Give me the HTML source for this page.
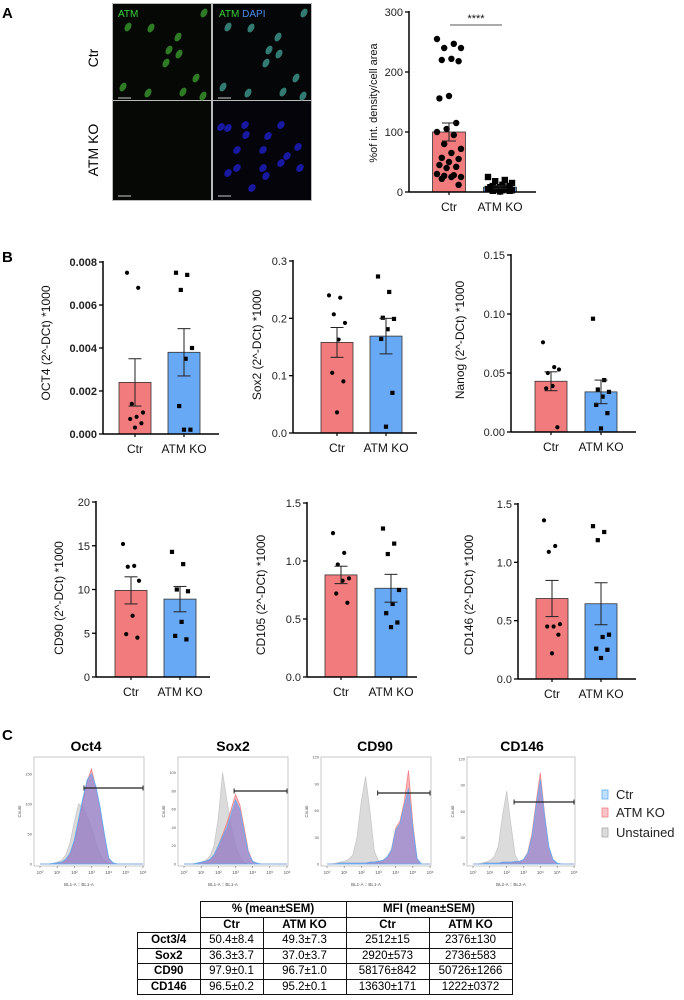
<!DOCTYPE html>
<html><head><meta charset="utf-8">
<style>
html,body{margin:0;padding:0;background:#fff;}
body{width:684px;height:1000px;position:relative;overflow:hidden;font-family:"Liberation Sans",Arial,sans-serif;}
svg{position:absolute;left:0;top:0;}
table{position:absolute;left:137px;top:901px;border-collapse:collapse;font-family:"Liberation Sans",sans-serif;font-size:11.5px;}
td{border:1.5px solid #111;text-align:center;padding:0;height:14.5px;line-height:14px;}
td.b{font-weight:bold;}
</style></head>
<body>
<svg id="fig" width="684" height="1000" viewBox="0 0 684 1000" xmlns="http://www.w3.org/2000/svg"></svg>
<table>
<tr><td style="border:none;border-right:1.5px solid #111;width:62px"></td><td class="b" colspan="2">% (mean±SEM)</td><td class="b" colspan="2">MFI (mean±SEM)</td></tr>
<tr><td style="border:none;border-right:1.5px solid #111;border-bottom:1.5px solid #111"></td><td class="b" style="width:62px">Ctr</td><td class="b" style="width:82px">ATM KO</td><td class="b" style="width:82px">Ctr</td><td class="b" style="width:82px">ATM KO</td></tr>
<tr><td class="b">Oct3/4</td><td>50.4±8.4</td><td>49.3±7.3</td><td>2512±15</td><td>2376±130</td></tr>
<tr><td class="b">Sox2</td><td>36.3±3.7</td><td>37.0±3.7</td><td>2920±573</td><td>2736±583</td></tr>
<tr><td class="b">CD90</td><td>97.9±0.1</td><td>96.7±1.0</td><td>58176±842</td><td>50726±1266</td></tr>
<tr><td class="b">CD146</td><td>96.5±0.2</td><td>95.2±0.1</td><td>13630±171</td><td>1222±0372</td></tr>
</table>
<script>
// ---------- DATA ----------
const groups = ["Ctr","ATM KO"];
// Panel A
const atmMeans = [100, 8];
const atmSem = [15, 2];
const atmCtrPts = [255,247,240,240,222,220,218,160,156,115,105,100,95,80,72,65,57,55,50,45,42,40,30,28,27,25,25,22,12];
const atmKoPts = [25,20,18,15,12,10,10,8,8,7,6,5,5,4,3,3,2,2,1];
const atmTicks = [0,100,200,300];
// Panel B
const oct4Means=[0.0024,0.0038], oct4Sem=[0.0011,0.0011];
const oct4Ctr=[0.0075,0.0068,0.0014,0.0010,0.0008,0.0007,0.0005,0.0003];
const oct4Ko=[0.0075,0.0074,0.0067,0.0040,0.0035,0.0013,0.0002,0.0002];
const oct4Ticks=["0.000","0.002","0.004","0.006","0.008"];
const sox2Means=[0.158,0.169], sox2Sem=[0.026,0.031];
const sox2Ctr=[0.240,0.236,0.207,0.192,0.163,0.105,0.090,0.036];
const sox2Ko=[0.273,0.246,0.201,0.199,0.181,0.164,0.070,0.011];
const sox2Ticks=["0.0","0.1","0.2","0.3"];
const nanogMeans=[0.043,0.034], nanogSem=[0.008,0.010];
const nanogCtr=[0.076,0.055,0.050,0.053,0.039,0.037,0.004];
const nanogKo=[0.096,0.044,0.036,0.034,0.030,0.023,0.016,0.003];
const nanogTicks=["0.00","0.05","0.10","0.15"];
const cd90Means=[9.9,8.9], cd90Sem=[1.55,1.45];
const cd90Ctr=[15.2,12.7,12.6,11.0,7.0,4.9,4.5];
const cd90Ko=[14.3,12.9,10.0,9.8,6.3,4.7,4.3];
const cd90Ticks=["0","5","10","15","20"];
const cd105Means=[0.88,0.765], cd105Sem=[0.075,0.12];
const cd105Ctr=[1.24,1.07,0.97,0.85,0.83,0.72,0.64];
const cd105Ko=[1.28,1.15,1.06,0.75,0.63,0.55,0.47,0.43];
const cd105Ticks=["0.0","0.5","1.0","1.5"];
const cd146Means=[0.69,0.645], cd146Sem=[0.155,0.18];
const cd146Ctr=[1.36,1.14,1.09,0.47,0.45,0.45,0.38,0.22];
const cd146Ko=[1.31,1.26,1.19,0.38,0.36,0.26,0.25,0.18];
const cd146Ticks=["0.0","0.5","1.0","1.5"];
// Panel C histograms (counts at log10 0..6 step 0.25)
const oct4HCtr=[0,0,0,1,2,3,8,18,40,75,110,140,150,130,95,50,10,2,0,0,0,0,0,0,0];
const oct4HKo=[0,0,0,1,2,3,7,16,36,70,105,138,158,128,92,48,9,2,0,0,0,0,0,0,0];
const oct4HUn=[0,0,0,1,3,6,15,35,70,100,95,80,60,35,15,5,1,0,0,0,0,0,0,0,0];
const sox2HCtr=[0,0,0,1,2,3,5,10,20,30,40,55,70,60,35,12,3,1,0,0,0,0,0,0,0];
const sox2HKo=[0,0,0,1,2,3,5,10,20,32,45,60,76,65,40,14,3,1,0,0,0,0,0,0,0];
const sox2HUn=[0,0,0,1,2,4,8,20,50,100,70,40,20,8,2,0,0,0,0,0,0,0,0,0,0];
const cd90HCtr=[0,0,0,1,1,1,1,1,1,1,2,2,3,4,8,15,38,45,65,85,40,6,0,0,0];
const cd90HKo=[0,0,0,1,1,1,1,1,1,1,2,2,3,4,8,16,40,48,70,105,45,6,0,0,0];
const cd90HUn=[0,0,1,2,3,5,10,30,70,98,60,15,3,1,0,0,0,0,0,0,0,0,0,0,0];
const cd146HCtr=[0,0,0,1,1,1,1,2,2,2,3,3,5,12,30,65,96,55,20,5,1,0,0,0,0];
const cd146HKo=[0,0,0,1,1,1,1,2,2,2,3,3,5,13,34,70,104,58,20,5,1,0,0,0,0];
const cd146HUn=[0,0,1,2,4,8,20,55,83,45,10,2,0,0,0,0,0,0,0,0,0,0,0,0,0];
const histTitles=["Oct4","Sox2","CD90","CD146"];
const histGates=[2.56,2.92,2.95,2.44];
const histMax=[178,117,120,122];

// ---------- HELPERS ----------
const NS="http://www.w3.org/2000/svg";
const svg=document.getElementById('fig');
function el(tag,attrs,parent,txt){const e=document.createElementNS(NS,tag);for(const k in attrs)e.setAttribute(k,attrs[k]);if(txt!==undefined)e.textContent=txt;(parent||svg).appendChild(e);return e;}
const RED="#f27b7d", BLUE="#68a9f6";

function barChart(c){
  const g=el('g',{});
  
  
  const y=v=>c.y0-(v/c.max)*(c.y0-c.yTop);
  [0,1].forEach(i=>{
    const b=el('rect',{x:c.cx[i]-c.bw/2,y:y(c.means[i]),width:c.bw,height:c.y0-y(c.means[i]),fill:i?BLUE:RED,stroke:'#333','stroke-width':0.8},g);
    
    
  });
  [c.ctr,c.ko].forEach((pts,i)=>{
    pts.forEach((v,k)=>{
      const off=(((k*7)%11)-5)/5*c.jit;
      const px=c.cx[i]+off, py=y(v);
      let m;
      if(i===0) m=el('circle',{cx:px,cy:py,r:c.pr,fill:'#000'},g);
      else m=el('rect',{x:px-c.pr,y:py-c.pr,width:c.pr*2,height:c.pr*2,fill:'#000'},g);
      
      
    });
  });
  [0,1].forEach(i=>{
    const lo=y(c.means[i]-c.sem[i]),hi=y(c.means[i]+c.sem[i]);
    el('line',{x1:c.cx[i],x2:c.cx[i],y1:lo,y2:hi,stroke:'#222','stroke-width':1},g);
    el('line',{x1:c.cx[i]-c.cap,x2:c.cx[i]+c.cap,y1:lo,y2:lo,stroke:'#222','stroke-width':1},g);
    el('line',{x1:c.cx[i]-c.cap,x2:c.cx[i]+c.cap,y1:hi,y2:hi,stroke:'#222','stroke-width':1},g);
  });
  const ax=el('line',{x1:c.ax,x2:c.ax,y1:c.yTop-1,y2:c.y0,stroke:'#000','stroke-width':1.5},g);
  
  const xa=el('line',{x1:c.ax,x2:c.axEnd,y1:c.y0,y2:c.y0,stroke:'#000','stroke-width':1.5},g);
  
  c.ticks.forEach((t,k)=>{
    const v=parseFloat(t),ty=y(v);
    el('line',{x1:c.ax-4,x2:c.ax,y1:ty,y2:ty,stroke:'#000','stroke-width':1.3},g);
    const tl=el('text',{x:c.ax-6,y:ty+4,'text-anchor':'end','font-size':c.tfs||11,'font-weight':c.bold?'bold':'normal',fill:'#222'},g,t);
    
  });
  [0,1].forEach(i=>{
    el('line',{x1:c.cx[i],x2:c.cx[i],y1:c.y0,y2:c.y0+3,stroke:'#000','stroke-width':1.2},g);
    const xl=el('text',{x:c.cx[i],y:c.y0+c.xlOff,'text-anchor':'middle','font-size':c.xfs||12,fill:'#111'},g,groups[i]);
    
  });
  const yl=el('text',{x:0,y:0,transform:`translate(${c.ylx},${c.yly}) rotate(-90)`,'text-anchor':'middle','font-size':c.yfs||12,fill:'#111'},g,c.ylabel);
  
  return {g,y};
}

function panelLabel(t,x,y){const e=el('text',{x,y,'font-size':15,'font-weight':'bold'},svg,t);}
panelLabel('A',2,18);panelLabel('B',2,262);panelLabel('C',2,740);

// ---------- MICROSCOPY ----------
const micro=el('g',{});

el('rect',{x:112,y:3,width:200,height:198,fill:'#bbb'},micro);
el('rect',{x:113,y:4,width:98,height:96,fill:'#050805'},micro);
el('rect',{x:213,y:4,width:98,height:96,fill:'#050608'},micro);
el('rect',{x:113,y:101,width:98,height:99,fill:'#060806'},micro);
el('rect',{x:213,y:101,width:98,height:99,fill:'#04040a'},micro);
const cells=[[204,13],[128,27],[151,28],[178,37],[169,50],[179,54],[166,63],[196,78],[123,87],[148,93],[183,92],[203,96]];
cells.forEach(([x,y])=>{
  el('ellipse',{cx:x,cy:y,rx:3,ry:4.8,fill:'#2f7a24',transform:`rotate(30 ${x} ${y})`},micro);
  el('ellipse',{cx:x+100,cy:y,rx:3,ry:4.8,fill:'#337a72',transform:`rotate(30 ${x+100} ${y})`},micro);
});
const blue=[[221,127],[228,128],[245,125],[281,125],[268,136],[246,135],[298,147],[263,150],[237,150],[287,156],[237,168],[263,168],[281,163],[228,173],[252,188],[266,176],[300,168]];
blue.forEach(([x,y])=>el('ellipse',{cx:x,cy:y,rx:3.3,ry:4.3,fill:'#1818a0',transform:`rotate(40 ${x} ${y})`},micro));
[[118,98],[218,98],[118,196],[218,196]].forEach(([x,y])=>el('line',{x1:x,x2:x+13,y1:y,y2:y,stroke:'#ccc','stroke-width':1},micro));
el('text',{x:118,y:17,'font-size':10,fill:'#3bd13b'},micro,'ATM');
const t2=el('text',{x:219,y:17,'font-size':10},micro);
el('tspan',{fill:'#3bd13b'},t2,'ATM ');el('tspan',{fill:'#4a8cf0'},t2,'DAPI');
el('text',{x:0,y:0,transform:'translate(98,58) rotate(-90)','text-anchor':'middle','font-size':14},micro,'Ctr');
el('text',{x:0,y:0,transform:'translate(98,150) rotate(-90)','text-anchor':'middle','font-size':14},micro,'ATM KO');

// ---------- PANEL A CHART ----------
barChart({name:'atm-quantification-chart',ax:409,axEnd:536,y0:192,yTop:12,max:300,means:atmMeans,sem:atmSem,ctr:atmCtrPts,ko:atmKoPts,
  ticks:atmTicks.map(String),cx:[449,500],bw:33,cap:7,pr:3.2,jit:12,xlOff:19,ylx:377,yly:103,ylabel:'%of int. density/cell area',yfs:11,tfs:11});
el('line',{x1:450,x2:502,y1:25,y2:25,stroke:'#555','stroke-width':1});
el('text',{x:476,y:22,'text-anchor':'middle','font-size':11,fill:'#111'},svg,'****');

// ---------- PANEL B CHARTS ----------
const common={bw:32,cap:6.5,pr:2.1,jit:8,xlOff:19};
barChart(Object.assign({},common,{name:'oct4-chart',ax:103,axEnd:219,y0:434,yTop:262,max:0.008,means:oct4Means,sem:oct4Sem,ctr:oct4Ctr,ko:oct4Ko,ticks:oct4Ticks,bold:true,cx:[135,184],ylx:50,yly:343,ylabel:'OCT4 (2^-DCt) *1000'}));
barChart(Object.assign({},common,{name:'sox2-chart',ax:293,axEnd:417,y0:433,yTop:261,max:0.3,means:sox2Means,sem:sox2Sem,ctr:sox2Ctr,ko:sox2Ko,ticks:sox2Ticks,cx:[337,386],ylx:261,yly:345,ylabel:'Sox2 (2^-DCt) *1000'}));
barChart(Object.assign({},common,{name:'nanog-chart',ax:511,axEnd:636,y0:432,yTop:255,max:0.15,means:nanogMeans,sem:nanogSem,ctr:nanogCtr,ko:nanogKo,ticks:nanogTicks,cx:[551,601],ylx:464,yly:340,ylabel:'Nanog (2^-DCt) *1000'}));
barChart(Object.assign({},common,{name:'cd90-chart',ax:96,axEnd:210,y0:677,yTop:502,max:20,means:cd90Means,sem:cd90Sem,ctr:cd90Ctr,ko:cd90Ko,ticks:cd90Ticks,cx:[131,180],ylx:63,yly:598,ylabel:'CD90 (2^-DCt) *1000'}));
barChart(Object.assign({},common,{name:'cd105-chart',ax:307,axEnd:417,y0:677,yTop:503,max:1.5,means:cd105Means,sem:cd105Sem,ctr:cd105Ctr,ko:cd105Ko,ticks:cd105Ticks,cx:[341,391],ylx:265,yly:595,ylabel:'CD105 (2^-DCt) *1000'}));
barChart(Object.assign({},common,{name:'cd146-chart',ax:518,axEnd:636,y0:679,yTop:504,max:1.5,means:cd146Means,sem:cd146Sem,ctr:cd146Ctr,ko:cd146Ko,ticks:cd146Ticks,cx:[552,601],ylx:473,yly:595,ylabel:'CD146 (2^-DCt) *1000'}));

// ---------- PANEL C HISTOGRAMS ----------
const boxes=[[34,144],[178,288],[321,431],[467,575]];
const histData=[[oct4HCtr,oct4HKo,oct4HUn],[sox2HCtr,sox2HKo,sox2HUn],[cd90HCtr,cd90HKo,cd90HUn],[cd146HCtr,cd146HKo,cd146HUn]];
const yTickSets=[[0,50,100,150],[0,20,40,60,80,100],[0,30,60,90,120],[0,30,60,90,120]];
const chNames=["BL1-A :: BL1-A","BL1-A :: BL1-A","BL1-A :: BL1-A","BL2-A :: BL2-A"];
const gateYs=[788,791,793,802];
boxes.forEach(([bx1,bx2],h)=>{
  const g=el('g',{});
  
  
  const top=757,bot=866,zero=864;
  const px0=bx1+6,px6=bx2-1;
  const X=l=>px0+(l/6)*(px6-px0);
  const Y=c=>zero-(c/histMax[h])*(zero-top);
  el('rect',{x:bx1,y:top,width:bx2-bx1,height:bot-top,fill:'#fff',stroke:'#bbb','stroke-width':0.8},g);
  const styles=[['rgba(110,125,225,0.55)','#5fb0f5'],['rgba(240,120,130,0.55)','#f07f86'],['rgba(195,195,195,0.6)','#c8c8c8']];
  [2,1,0].forEach(s=>{
    const arr=histData[h][s];
    let d=`M${X(0)},${Y(0)}`;
    arr.forEach((v,k)=>{d+=` L${X(k*0.25).toFixed(1)},${Y(v).toFixed(1)}`;});
    d+=` L${X(6)},${Y(0)} Z`;
    const p=el('path',{d,fill:styles[s][0],stroke:styles[s][1],'stroke-width':0.8},g);
    
    
  });
  const gyy=gateYs[h];
  el('line',{x1:X(histGates[h]),x2:X(6),y1:gyy,y2:gyy,stroke:'#222','stroke-width':1.3},g);
  el('line',{x1:X(histGates[h]),x2:X(histGates[h]),y1:gyy-2.5,y2:gyy+2.5,stroke:'#222','stroke-width':1},g);
  el('line',{x1:X(6),x2:X(6),y1:gyy-2.5,y2:gyy+2.5,stroke:'#222','stroke-width':1},g);
  for(let k=0;k<=6;k++){
    el('line',{x1:X(k),x2:X(k),y1:bot,y2:bot+2,stroke:'#555','stroke-width':0.5},g);
    el('text',{x:X(k),y:bot+8,'text-anchor':'middle','font-size':4.5,fill:'#555'},g,'10'+['⁰','¹','²','³','⁴','⁵','⁶'][k]);
  }
  yTickSets[h].forEach(v=>{
    el('text',{x:bx1-2,y:Y(v)+1.5,'text-anchor':'end','font-size':4,fill:'#555'},g,String(v));
  });
  el('text',{x:(bx1+bx2)/2-10,y:bot+20,'text-anchor':'middle','font-size':4.5,fill:'#555'},g,chNames[h]);
  el('text',{x:0,y:0,transform:`translate(${bx1-13},${(top+bot)/2}) rotate(-90)`,'text-anchor':'middle','font-size':4.5,fill:'#555'},g,'Count');
  const tt=el('text',{x:[86,233,375,522][h],y:751,'text-anchor':'middle','font-size':14,'font-weight':'bold'},g,histTitles[h]);
  
});
const lg=el('g',{});

[['Ctr','#bfe0ff','#5fb0f5',795],['ATM KO','#f8c4c8','#f07f86',813],['Unstained','#dcdcdc','#aaa',833]].forEach(([t,f,s,y])=>{
  const e=el('g',{},lg);
  
  el('rect',{x:602,y:y-5,width:6,height:9,fill:f,stroke:s,'stroke-width':0.8},e);
  el('text',{x:616,y:y+4,'font-size':13,fill:'#222'},e,t);
});
</script>
</body></html>
